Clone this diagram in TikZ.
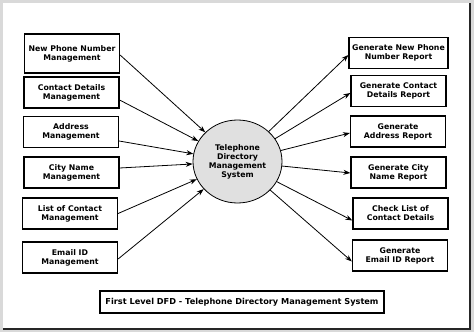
\documentclass[tikz,border=0pt]{standalone}
\usepackage{fontspec}
\setsansfont{DejaVu Sans}
\usepackage{tikz}
\usetikzlibrary{arrows.meta,shapes.geometric}

\begin{document}
\begin{tikzpicture}[
  x=1pt, y=-1pt,
  >={Stealth[length=7pt,width=5pt]},
  every node/.style={font=\sffamily\bfseries\fontsize{7.8}{9}\selectfont},
  proc/.style={draw, line width=1.2pt, align=center, minimum width=95pt, minimum height=31pt, inner sep=1pt},
  flow/.style={->, line width=0.8pt}
]
% frame
\fill[black!15] (0,0) rectangle (474,332);
\fill[white] (3,3) rectangle (470,329);
\draw[black!85, line width=1.6pt] (470,3) -- (470,329) -- (3,329);

% central process
\node[ellipse, draw, line width=0.8pt, fill=black!12, minimum width=89pt, minimum height=83pt, inner sep=0pt, align=center] (sys) at (237.5,161.5) {Telephone\\Directory\\Management\\System};

% input side
\node[proc, minimum height=39pt] (l1) at (72,53.5) {New Phone Number\\Management};
\node[proc] (l2) at (71.5,92.5) {Contact Details\\Management};
\node[proc] (l3) at (71,132) {Address\\Management};
\node[proc] (l4) at (71.5,172.5) {City Name\\Management};
\node[proc] (l5) at (70,213.5) {List of Contact\\Management};
\node[proc] (l6) at (70,257.5) {Email ID\\Management};

% output side
\node[proc, minimum width=99pt] (r1) at (398.5,53) {Generate New Phone\\Number Report};
\node[proc] (r2) at (398.5,91) {Generate Contact\\Details Report};
\node[proc] (r3) at (398,131.5) {Generate\\Address Report};
\node[proc] (r4) at (398.5,172.5) {Generate City\\Name Report};
\node[proc] (r5) at (400.5,213.5) {Check List of\\Contact Details};
\node[proc] (r6) at (400,255.5) {Generate\\Email ID Report};

% title
\node[draw, line width=1.2pt, minimum width=284pt, minimum height=22pt, font=\sffamily\bfseries\fontsize{8.2}{10}\selectfont] (title) at (242,302) {First Level DFD - Telephone Directory Management System};

\foreach \b/\d in {l1/-1.5,l2/-7.5,l3/-9,l4/4.5,l5/0,l6/-1.5}{\draw[flow] ([yshift=\d pt]\b.east) -- (sys);}
\foreach \b/\d in {r1/-2,r2/-2,r3/-1.5,r4/-0.5,r5/-7,r6/-6}{\draw[flow] (sys) -- ([yshift=\d pt]\b.west);}
\end{tikzpicture}
\end{document}
